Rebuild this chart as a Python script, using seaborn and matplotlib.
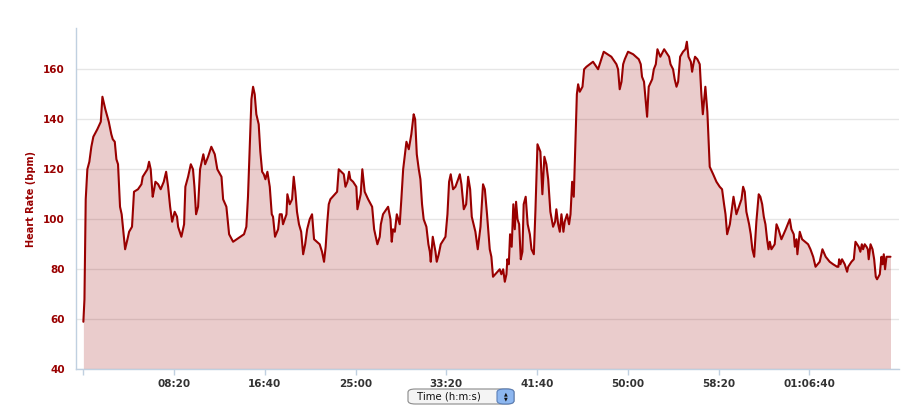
import matplotlib.pyplot as plt
import matplotlib.patches as mpatches
import seaborn as sns
import pandas as pd

# ── Data ──────────────────────────────────────────────────────────────────────

TIME_S = [
    0, 6, 11, 13, 22, 33, 44, 55, 77, 96, 105, 121, 140, 154, 162, 173, 182, 191,
    202, 211, 219, 230, 243, 252, 268, 279, 301, 320, 327, 353, 362, 371, 382,
    390, 397, 412, 426, 443, 456, 467, 478, 489, 503, 516, 522, 540, 555, 562,
    577, 592, 604, 612, 621, 632, 643, 661, 671, 687, 705, 724, 738, 761, 770,
    788, 803, 825, 885, 898, 907, 917, 926, 935, 944, 953, 966, 975, 985, 994,
    1003, 1014, 1027, 1038, 1045, 1056, 1073, 1082, 1093, 1100, 1119, 1124,
    1137, 1150, 1159, 1168, 1177, 1188, 1200, 1211, 1222, 1233, 1247, 1260,
    1271, 1302, 1315, 1326, 1335, 1343, 1352, 1361, 1398, 1407, 1435, 1444,
    1455, 1464, 1471, 1486, 1504, 1510, 1528, 1537, 1550, 1569, 1591, 1602,
    1620, 1633, 1639, 1651, 1679, 1692, 1699, 1706, 1716, 1727, 1743, 1752,
    1762, 1780, 1793, 1807, 1820, 1828, 1837, 1848, 1857, 1866, 1875, 1890,
    1901, 1909, 1914, 1925, 1940, 1947, 1958, 1969, 1995, 2006, 2015, 2024,
    2037, 2050, 2065, 2074, 2083, 2096, 2109, 2120, 2131, 2140, 2153, 2160,
    2173, 2188, 2202, 2212, 2224, 2239, 2248, 2257, 2294, 2303, 2313, 2322,
    2331, 2336, 2344, 2351, 2360, 2369, 2377, 2384, 2392, 2401, 2410, 2419,
    2426, 2437, 2448, 2460, 2469, 2482, 2491, 2502, 2518, 2529, 2540, 2551,
    2561, 2573, 2588, 2599, 2606, 2616, 2625, 2634, 2645, 2652, 2665, 2676,
    2684, 2693, 2702, 2709, 2719, 2726, 2735, 2750, 2759, 2772, 2808, 2836,
    2867, 2909, 2937, 2946, 2955, 2965, 2974, 2983, 3001, 3029, 3060, 3071,
    3078, 3089, 3099, 3106, 3115, 3134, 3143, 3154, 3163, 3179, 3200, 3227,
    3235, 3249, 3258, 3268, 3277, 3288, 3304, 3317, 3325, 3334, 3347, 3354,
    3361, 3370, 3383, 3396, 3405, 3413, 3427, 3438, 3451, 3470, 3488, 3506,
    3519, 3530, 3538, 3547, 3562, 3571, 3582, 3598, 3617, 3626, 3635, 3644,
    3653, 3668, 3677, 3686, 3696, 3708, 3721, 3730, 3740, 3749, 3758, 3767,
    3775, 3782, 3791, 3809, 3819, 3830, 3846, 3870, 3892, 3901, 3914, 3920,
    3929, 3934, 3947, 3960, 3993, 4006, 4021, 4034, 4057, 4072, 4090, 4112,
    4131, 4153, 4160, 4164, 4171, 4180, 4195, 4208, 4214, 4232, 4245, 4254,
    4272, 4281, 4289, 4296, 4305, 4315, 4322, 4327, 4337, 4348, 4357, 4366,
    4373, 4388, 4397, 4403, 4410, 4417, 4425, 4447,
]

HEART_RATE = [
    59, 68, 98, 108, 120, 123, 129, 133, 136, 139, 149, 144, 139, 134, 132, 131,
    124, 122, 105, 102, 96, 88, 92, 95, 97, 111, 112, 114, 117, 120, 123, 120,
    109, 112, 115, 114, 112, 115, 119, 113, 105, 99, 103, 101, 97, 93, 98, 113,
    117, 122, 120, 113, 102, 105, 120, 126, 122, 125, 129, 126, 120, 117, 108,
    105, 94, 91, 94, 97, 109, 129, 148, 153, 150, 142, 138, 127, 119, 118, 116,
    119, 113, 102, 101, 93, 96, 102, 102, 98, 102, 110, 106, 108, 117, 111, 103,
    98, 95, 86, 90, 96, 100, 102, 92, 90, 87, 83, 89, 98, 106, 108, 111, 120,
    118, 113, 115, 119, 116, 115, 113, 104, 110, 120, 111, 108, 105, 96, 90, 93,
    98, 102, 105, 100, 91, 96, 95, 102, 98, 108, 120, 131, 128, 134, 142, 140,
    126, 120, 116, 106, 100, 97, 90, 87, 83, 93, 87, 83, 86, 90, 93, 102, 115,
    118, 112, 113, 116, 118, 114, 104, 106, 117, 112, 101, 97, 95, 88, 97, 114,
    112, 102, 88, 85, 77, 80, 78, 80, 75, 78, 84, 82, 94, 89, 106, 96, 107, 100,
    98, 84, 87, 106, 109, 98, 94, 88, 86, 104, 130, 127, 110, 125, 122, 116,
    103, 97, 99, 104, 98, 95, 102, 95, 99, 102, 98, 102, 115, 109, 126, 150,
    154, 151, 153, 160, 161, 163, 160, 167, 165, 162, 160, 152, 155, 162, 164,
    167, 166, 164, 162, 157, 155, 147, 141, 153, 156, 160, 162, 168, 165, 168,
    165, 162, 160, 156, 153, 155, 165, 167, 168, 171, 165, 163, 159, 162, 165,
    164, 162, 150, 142, 153, 143, 121, 118, 115, 113, 112, 106, 102, 94, 98,
    103, 109, 102, 106, 108, 113, 111, 103, 98, 94, 88, 85, 99, 110, 109, 106,
    101, 98, 92, 88, 91, 88, 90, 98, 96, 92, 96, 100, 96, 94, 89, 92, 86, 95,
    92, 90, 88, 85, 81, 83, 88, 85, 83, 82, 81, 81, 84, 82, 84, 82, 79, 81, 83,
    84, 91, 89, 87, 90, 88, 90, 89, 88, 84, 90, 88, 84, 77, 76, 78, 85, 82, 86,
    80, 85, 85,
]

X_TICKS = [0, 500, 1000, 1500, 2000, 2500, 3000, 3500, 4000]
X_TICK_LABELS = ["", "08:20", "16:40", "25:00", "33:20", "41:40", "50:00",
                 "58:20", "01:06:40"]
Y_TICKS = [40, 60, 80, 100, 120, 140, 160]

df = pd.DataFrame({"time": TIME_S, "hr": HEART_RATE})

# ── Style ─────────────────────────────────────────────────────────────────────

LINE = "#990000"
AXIS = "#C0D0E0"

sns.set_theme(style="white")
plt.rcParams["font.family"] = ["DejaVu Sans"]

fig = plt.figure(figsize=(9.06, 4.08), dpi=100)
ax = fig.add_axes([0.0836, 0.0949, 0.9087, 0.8365])

ax.set_axisbelow(True)
ax.yaxis.grid(True, color="#E6E6E6", linewidth=1)
ax.fill_between(df["time"], df["hr"], 40, color=LINE, alpha=0.2, linewidth=0, zorder=2)
sns.lineplot(data=df, x="time", y="hr", color=LINE, linewidth=1.5, ax=ax, zorder=3)

ax.set_xlim(-42, 4494)
ax.set_ylim(40, 176.5)

ax.set_xticks(X_TICKS)
ax.set_xticklabels(X_TICK_LABELS, fontsize=7.5, fontweight="bold", color="#333333")
ax.set_yticks(Y_TICKS)
ax.set_yticklabels([str(v) for v in Y_TICKS], fontsize=7.5, fontweight="bold", color=LINE)
ax.tick_params(axis="x", length=4, width=1, color=AXIS, pad=3, direction="out", bottom=True)
ax.tick_params(axis="y", length=0, pad=8)

for side in ["top", "right"]:
    ax.spines[side].set_visible(False)
for side in ["left", "bottom"]:
    ax.spines[side].set_color(AXIS)
    ax.spines[side].set_linewidth(1)

ax.set_xlabel("")
ax.set_ylabel("Heart Rate (bpm)", fontsize=7, fontweight="bold", color=LINE, labelpad=5)

# ── "Time (h:m:s)" selector below the axis ────────────────────────────────────

W, H = 906, 408
box = mpatches.FancyBboxPatch(
    (408 / W, (H - 404) / H), 106 / W, 15 / H,
    boxstyle="round,pad=0,rounding_size=0.008",
    transform=fig.transFigure, facecolor="#F4F4F4", edgecolor="#8A8A8A", linewidth=0.8,
)
fig.patches.append(box)
stepper = mpatches.FancyBboxPatch(
    (497 / W, (H - 404) / H), 17 / W, 15 / H,
    boxstyle="round,pad=0,rounding_size=0.008",
    transform=fig.transFigure, facecolor="#8DB7F0", edgecolor="#5A7FB8", linewidth=0.8,
)
fig.patches.append(stepper)
fig.text(449 / W, (H - 396.5) / H, "Time (h:m:s)", fontsize=7.3, color="#111111",
         ha="center", va="center")
fig.text(505.5 / W, (H - 393.5) / H, "▲", fontsize=3.5, color="#111111", ha="center", va="center")
fig.text(505.5 / W, (H - 399) / H, "▼", fontsize=3.5, color="#111111", ha="center", va="center")

fig.savefig("out.png", dpi=100)
